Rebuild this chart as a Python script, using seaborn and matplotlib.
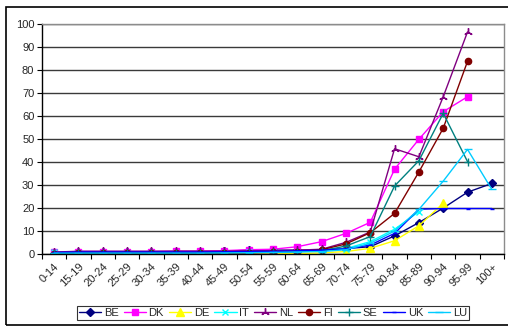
import numpy as np
import pandas as pd
import matplotlib
matplotlib.use("Agg")
import matplotlib.pyplot as plt
from matplotlib.patches import Rectangle
import seaborn as sns

age_groups = ["0-14", "15-19", "20-24", "25-29", "30-34", "35-39", "40-44",
              "45-49", "50-54", "55-59", "60-64", "65-69", "70-74", "75-79",
              "80-84", "85-89", "90-94", "95-99", "100+"]

nan = np.nan
BE = [0.3, 1.2, 1.2, 1.2, 1.2, 1.2, 1.2, 1.3, 1.8, 1.8, 1.8, 2.0, 2.5, 3.3, 8.0, 13.8, 20.1, 27.0, 30.8]
DK = [1.0, 1.2, 1.2, 1.2, 1.2, 1.3, 1.3, 1.6, 2.0, 2.2, 3.3, 5.5, 9.1, 13.9, 37.0, 50.0, 62.0, 68.5, nan]
DE = [0.0, 0.0, 0.0, 0.0, 0.0, 0.0, 0.0, 0.0, 0.1, 0.2, 0.3, 0.6, 1.2, 2.6, 5.9, 12.4, 22.2, nan, nan]
IT = [1.0, 0.5, 0.5, 0.5, 0.5, 0.5, 0.5, 0.6, 0.8, 1.0, 1.2, 1.5, 2.5, 5.5, 10.9, 18.5, nan, nan, nan]
NL = [1.0, 1.3, 1.3, 1.3, 1.3, 1.4, 1.4, 1.4, 1.5, 1.6, 1.8, 2.2, 5.2, 9.7, 45.9, 42.4, 68.5, 96.7, nan]
FI = [0.3, 0.5, 0.5, 0.5, 0.5, 0.5, 0.5, 0.6, 0.6, 0.8, 1.2, 2.0, 4.5, 9.4, 17.8, 35.8, 54.8, 83.9, nan]
SE = [0.5, 0.5, 0.5, 0.5, 0.5, 0.5, 0.6, 0.7, 0.8, 1.0, 1.2, 1.5, 3.6, 7.7, 29.7, 40.7, 61.3, 40.3, nan]
UK = [0.8, 1.0, 1.0, 1.0, 1.0, 1.0, 1.0, 1.1, 1.2, 1.3, 1.5, 1.8, 2.4, 4.0, 9.1, 19.6, 19.9, 19.9, 19.9]
LU = [0.5, 0.5, 0.5, 0.5, 0.5, 0.5, 0.5, 0.6, 0.7, 0.8, 1.0, 1.2, 2.0, 4.8, 10.1, 19.5, 31.8, 45.6, 28.2]

series = {"BE": BE, "DK": DK, "DE": DE, "IT": IT, "NL": NL,
          "FI": FI, "SE": SE, "UK": UK, "LU": LU}

styles = {
    "BE": dict(color="#000080", marker="D", ms=4.0),
    "DK": dict(color="#FF00FF", marker="s", ms=4.5),
    "DE": dict(color="#FFFF00", marker="^", ms=5.5),
    "IT": dict(color="#00FFFF", marker="x", ms=4.5),
    "NL": dict(color="#800080", marker=(3, 2, 0), ms=6.0),
    "FI": dict(color="#800000", marker="o", ms=4.5),
    "SE": dict(color="#008080", marker="+", ms=5.5),
    "UK": dict(color="#0000FF", marker="_", ms=3.5),
    "LU": dict(color="#00CCFF", marker="_", ms=6.0),
}

sns.set_theme(style="white")
plt.rcParams["font.family"] = ["Liberation Sans", "DejaVu Sans"]
FS = 8.0

fig = plt.figure(figsize=(5.08, 3.31), dpi=100)
ax = fig.add_axes([42 / 508, 1 - 254.3 / 331, 462 / 508, 230 / 331])

x = np.arange(len(age_groups))
frames = []
for name, vals in series.items():
    frames.append(pd.DataFrame({"pos": x, "value": vals, "country": name}))
df = pd.concat(frames, ignore_index=True)

for name in series:
    st = styles[name]
    sub = df[df["country"] == name].dropna()
    sns.lineplot(data=sub, x="pos", y="value", ax=ax, color=st["color"],
                 marker=st["marker"], markersize=st["ms"], linewidth=1.0,
                 markeredgecolor=st["color"], markerfacecolor=st["color"],
                 markeredgewidth=1.0, label=name, legend=False)

ax.set_xlim(-0.5, len(age_groups) - 0.5)
ax.set_ylim(0, 100)
ax.set_yticks(np.arange(0, 101, 10))
ax.set_xticks(x)
ax.set_xticks(np.arange(-0.5, len(age_groups), 1.0), minor=True)
ax.set_xticklabels(age_groups, rotation=45, ha="right",
                   rotation_mode="anchor", fontsize=FS)
ax.tick_params(axis="x", which="major", length=0, pad=5)
ax.tick_params(axis="x", which="minor", length=3.5, width=0.8,
               color="black", direction="out", bottom=True)
ax.tick_params(axis="y", length=3.5, width=0.8, color="black",
               direction="out", left=True, labelsize=FS, pad=2)
ax.set_xlabel("")
ax.set_ylabel("")
ax.grid(False)
ax.yaxis.grid(True, color="#3a3a3a", linewidth=1.0)
ax.set_axisbelow(True)

for side in ("top", "right"):
    ax.spines[side].set_color("#8c8c8c")
    ax.spines[side].set_linewidth(1.0)
for side in ("left", "bottom"):
    ax.spines[side].set_color("black")
    ax.spines[side].set_linewidth(1.0)

handles, labels = ax.get_legend_handles_labels()
leg = fig.legend(handles, labels, loc="center", ncol=9,
                 bbox_to_anchor=(273 / 508, 1 - 313 / 331),
                 frameon=True, fancybox=False, fontsize=FS,
                 handlelength=2.0, handletextpad=0.25, columnspacing=0.45,
                 borderpad=0.2, borderaxespad=0)
leg.get_frame().set_edgecolor("black")
leg.get_frame().set_linewidth(0.8)

# outer chart frame
fig.patches.append(Rectangle((6 / 508, 1 - 325 / 331), 510 / 508, 318 / 331,
                             transform=fig.transFigure, fill=False,
                             edgecolor="black", linewidth=1.2))

fig.savefig("out.png", dpi=100)
